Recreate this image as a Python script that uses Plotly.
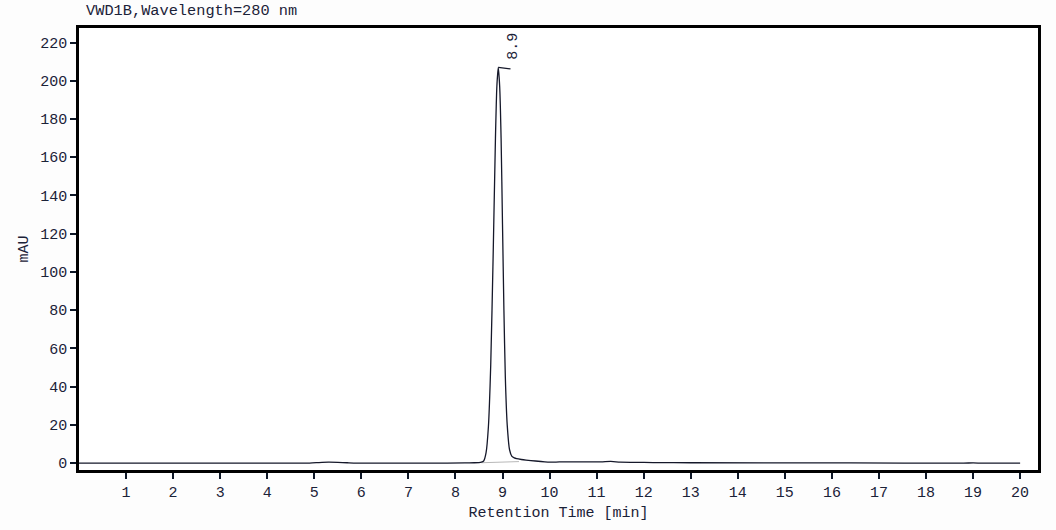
import plotly.graph_objects as go

# chromatogram (min, mAU)
ret_time = [0, 4.9, 5.1, 5.3, 5.5, 5.7, 5.9, 7.5, 8.2, 8.4, 8.5, 8.55, 8.6, 8.65,
            8.7, 8.75, 8.8, 8.85, 8.88, 8.91, 8.94, 8.97, 9.0, 9.03, 9.06, 9.1,
            9.15, 9.2, 9.25, 9.3, 9.4, 9.5, 9.7, 9.9, 10.1, 10.3, 10.5, 10.7, 10.9,
            11.0, 11.1, 11.3, 11.5, 11.8, 12.2, 13.0, 16.4, 18.8, 19.0, 19.2, 20.0]
mau = [0, 0, 0.3, 0.5, 0.4, 0.2, 0, 0, 0.1, 0.2, 0.3, 0.5, 1.1, 5.3,
       18.9, 51.6, 107, 170, 197, 207, 197, 170, 125, 80, 45, 20,
       7, 3.5, 2.7, 2.3, 1.9, 1.6, 1.1, 0.7, 0.5, 0.7, 0.6, 0.7, 0.6,
       0.7, 0.6, 0.9, 0.5, 0.4, 0.3, 0.2, 0.1, 0, 0.1, 0, 0]

# integration baseline under the main peak
base_time = [8.55, 9.35]
base_mau = [0.2, 0.8]

peak_time = 8.91
peak_mau = 207
peak_label = "8.9"

x_ticks = list(range(1, 21))
y_ticks = list(range(0, 240, 20))

txt = "#1b2238"
font_main = "Liberation Mono, Courier New, monospace"

fig = go.Figure()
fig.add_trace(go.Scatter(x=base_time, y=base_mau, mode="lines",
                         line=dict(color="#b8b8b8", width=1), hoverinfo="skip"))
fig.add_trace(go.Scatter(x=ret_time, y=mau, mode="lines", line_shape="spline",
                         line=dict(color="#15182a", width=1.3, smoothing=0.6)))

# apex marker and label
fig.add_trace(go.Scatter(x=[peak_time, peak_time + 0.26], y=[peak_mau, peak_mau - 0.8],
                         mode="lines", line=dict(color="#15182a", width=1.3),
                         hoverinfo="skip"))
fig.add_annotation(x=peak_time + 0.32, y=peak_mau + 11, text=peak_label, textangle=-90,
                   showarrow=False, font=dict(family=font_main, size=15, color=txt))

fig.update_layout(
    width=1056, height=530,
    margin=dict(l=79, r=18, t=28, b=57),
    paper_bgcolor="#fdfdfd", plot_bgcolor="white",
    showlegend=False,
    font=dict(family=font_main, size=15, color=txt),
    title=dict(text="VWD1B,Wavelength=280 nm", x=0.0815, xanchor="left",
               y=0.981, yanchor="middle",
               font=dict(family=font_main, size=15.3, color=txt)),
)
fig.update_xaxes(
    range=[0, 20.38], tickvals=x_ticks, ticks="outside", ticklen=6, tickwidth=2,
    tickcolor="#0c1626", showline=True, linewidth=2.5, linecolor="black", mirror=True,
    showgrid=False, zeroline=False,
    title=dict(text="Retention Time [min]", standoff=6, font=dict(size=15)),
    tickfont=dict(size=15),
)
fig.update_yaxes(
    range=[-3.6, 227.6], tickvals=y_ticks, ticks="outside", ticklen=6, tickwidth=2,
    tickcolor="#0c1626", showline=True, linewidth=2.5, linecolor="black", mirror=True,
    showgrid=False, zeroline=False,
    title=dict(text="mAU", standoff=8, font=dict(size=15)),
    tickfont=dict(size=15),
)

# drop the default 8px page margin so the figure fills the window
fig.write_html("out.html", config={"displayModeBar": False},
               post_script="document.body.style.margin='0';")
